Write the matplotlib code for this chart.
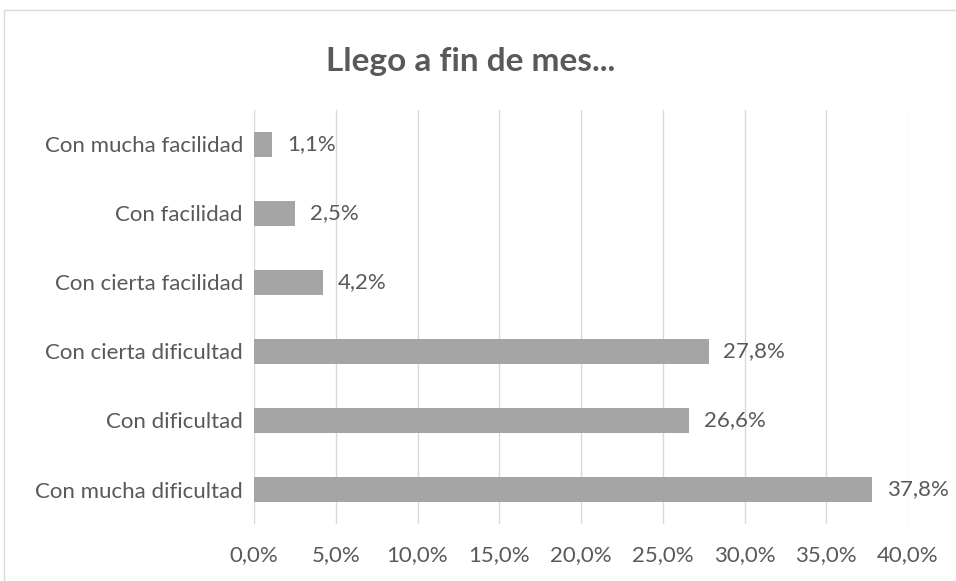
import matplotlib.pyplot as plt
from matplotlib.patches import Rectangle

categories = ["Con mucha dificultad", "Con dificultad", "Con cierta dificultad",
              "Con cierta facilidad", "Con facilidad", "Con mucha facilidad"]
values = [37.8, 26.6, 27.8, 4.2, 2.5, 1.1]
xticks = [0, 5, 10, 15, 20, 25, 30, 35, 40]

text_color = '#595959'
plt.rcParams['font.family'] = ['Lato', 'DejaVu Sans']

fig = plt.figure(figsize=(9.56, 5.81), dpi=100)
ax = fig.add_axes([0.2657, 0.0981, 0.9498 - 0.2657, 0.8107 - 0.0981])

# chart border
fig.patches.append(Rectangle((4 / 956, -0.01), 1.0, 1 - 10 / 581 + 0.01,
                             transform=fig.transFigure, fill=False,
                             edgecolor='#d9d9d9', linewidth=1))

y = range(len(categories))
ax.barh(y, values, height=0.35, color='#a5a5a5', zorder=3)
for yi, v in zip(y, values):
    ax.text(v + 0.9, yi, f"{v:.1f}%".replace('.', ','), va='center', ha='left',
            fontsize=16, color=text_color)

ax.set_xlim(0, 40)
ax.set_ylim(-0.5, len(categories) - 0.5)
ax.set_xticks(xticks)
ax.set_xticklabels([f"{t:.1f}%".replace('.', ',') for t in xticks])
ax.set_yticks(list(y))
ax.set_yticklabels(categories)
ax.tick_params(axis='both', length=0, labelsize=16, labelcolor=text_color)
ax.tick_params(axis='x', pad=15)
ax.tick_params(axis='y', pad=8)
ax.grid(axis='x', color='#d9d9d9', linewidth=1, zorder=0)
for s in ax.spines.values():
    s.set_visible(False)

fig.text(0.492, 1 - 62 / 581, "Llego a fin de mes...", ha='center', va='center',
         fontsize=24, fontweight='bold', color=text_color)

fig.savefig("out.png", dpi=100)
